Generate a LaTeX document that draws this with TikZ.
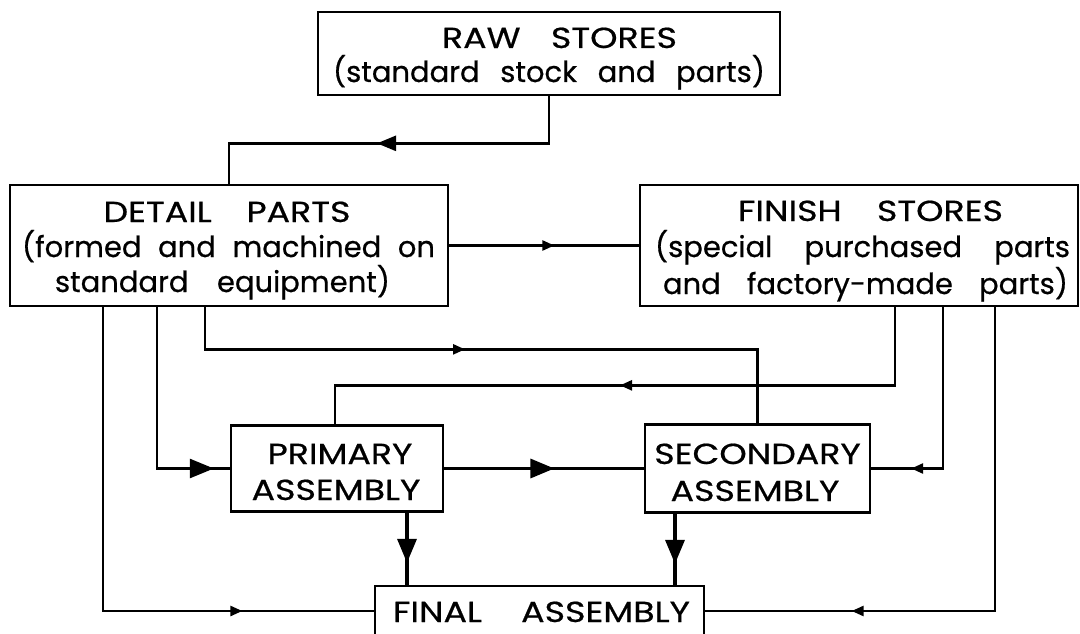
\documentclass[tikz,border=0pt]{standalone}
\usepackage{fontspec}
\setmainfont{Poppins}[FakeBold=0.6]
\newfontfamily\capsfont{Poppins}[FakeStretch=1.2,FakeBold=0.6]
\usetikzlibrary{arrows.meta,decorations.markings}
\begin{document}
\begin{tikzpicture}[x=1pt,y=1pt,
  box/.style={draw,line width=2.7pt,inner sep=0pt},
  capline/.style={anchor=base,inner sep=0pt,font=\capsfont\fontsize{29}{34}\selectfont},
  lowline/.style={anchor=base,inner sep=0pt,font=\fontsize{29}{34}\selectfont},
  conn/.style={line width=2.5pt},
  heavy/.style={line width=3.4pt},
  smallmark/.style={postaction={decorate,decoration={markings,mark=at position #1 with {\arrow{Triangle[length=12pt,width=10pt]}}}}},
  midmark/.style={postaction={decorate,decoration={markings,mark=at position #1 with {\arrow{Triangle[length=19pt,width=15pt]}}}}},
  bigmark/.style={postaction={decorate,decoration={markings,mark=at position #1 with {\arrow{Triangle[length=24pt,width=19pt]}}}}}]
\useasboundingbox (0,0) rectangle (1080,-634);
\fill[white] (0,0) rectangle (1080,-634);
% boxes
\node[box,minimum width=462pt,minimum height=83pt] (raw) at (549,-53.5) {};
\node[box,minimum width=438pt,minimum height=121pt] (detail) at (229,-245.5) {};
\node[box,minimum width=438pt,minimum height=121pt] (finish) at (859,-245.5) {};
\node[box,minimum width=212pt,minimum height=86pt] (primary) at (337,-468.5) {};
\node[box,minimum width=225pt,minimum height=88pt] (secondary) at (757.5,-468.5) {};
\node[box,minimum width=329pt,minimum height=50pt] (final) at (539.5,-611) {};
% texts
\node[capline] (rawa) at (559.5,-48) {\makebox[235pt][s]{RAW STORES}};
\node[lowline] (rawb) at (549,-82) {\makebox[432pt][s]{(standard stock and parts)}};
\node[capline] (deta) at (227,-222) {\makebox[247pt][s]{DETAIL PARTS}};
\node[lowline] (detb) at (228.5,-257) {\makebox[413pt][s]{(formed and machined on}};
\node[lowline] (detc) at (222.5,-292) {\makebox[335pt][s]{standard equipment)}};
\node[capline] (fina) at (870.5,-221) {\makebox[265pt][s]{FINISH STORES}};
\node[lowline] (finb) at (862.5,-257) {\makebox[415pt][s]{(special purchased parts}};
\node[lowline] (finc) at (865.5,-294) {\makebox[405pt][s]{and factory-made parts)}};
\node[capline] (pria) at (340,-464) {PRIMARY};
\node[capline] (prib) at (336,-500) {ASSEMBLY};
\node[capline] (seca) at (757.5,-464) {SECONDARY};
\node[capline] (secb) at (755,-501) {ASSEMBLY};
\node[capline] (fnla) at (541.5,-622) {\makebox[297pt][s]{FINAL ASSEMBLY}};
% helper coordinates
\coordinate (pf) at ([xshift=70pt]primary.south);
\coordinate (sf) at ([xshift=-82.5pt]secondary.south);
% connectors
\draw[conn,midmark=219pt] (raw.south) -- ++(0,-47) -| (detail.north);
\draw[conn,smallmark=105pt] (detail.east) -- (finish.west);
\draw[conn,smallmark=302pt] ([xshift=-24pt]detail.south) -- ++(0,-42) -| (secondary.north);
\draw[conn,bigmark=218pt] ([xshift=-72pt]detail.south) |- (primary.west);
\draw[conn,smallmark=443pt] ([xshift=-126pt]detail.south) |- (final.west);
\draw[conn,smallmark=353pt] ([xshift=36pt]finish.south) -- ++(0,-78) -| ([xshift=-2pt]primary.north);
\draw[conn,smallmark=193pt] ([xshift=84pt]finish.south) |- (secondary.east);
\draw[conn,smallmark=447pt] ([xshift=136pt]finish.south) |- (final.east);
\draw[heavy,bigmark=110pt] (primary.east) -- (secondary.west);
\draw[heavy,bigmark=50pt] (pf) -- (pf |- final.north);
\draw[heavy,bigmark=50pt] (sf) -- (sf |- final.north);
\end{tikzpicture}
\end{document}
